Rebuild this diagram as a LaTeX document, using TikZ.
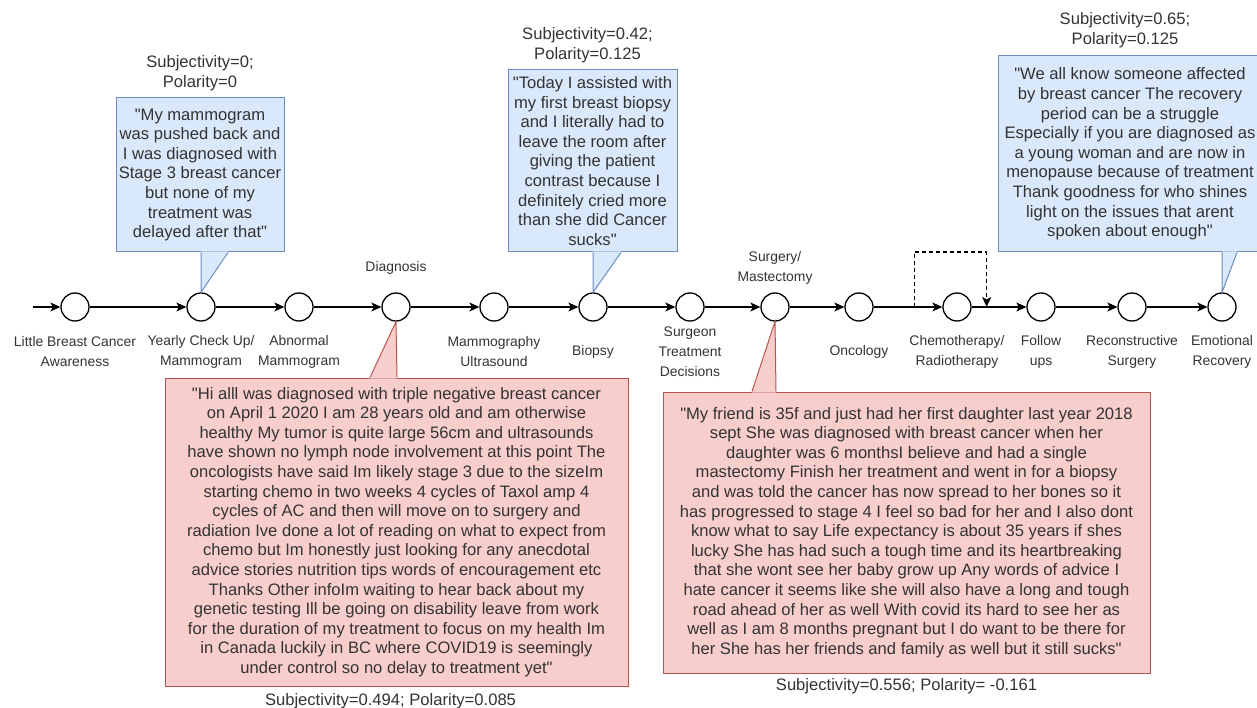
\documentclass[tikz,border=0pt]{standalone}
\usepackage{fontspec}
\setmainfont{Liberation Sans}[Ligatures=TeXOff]
\usetikzlibrary{positioning,arrows.meta}

\definecolor{txtgray}{HTML}{333333}
\definecolor{bluefill}{HTML}{DAE8FC}
\definecolor{bluedraw}{HTML}{6C8EBF}
\definecolor{redfill}{HTML}{F8CECC}
\definecolor{reddraw}{HTML}{B85450}

\begin{document}
\begin{tikzpicture}[x=1pt, y=-1pt, on grid, node distance=98pt,
    >={Stealth[length=10pt,width=9pt,inset=2.5pt]}, line width=1.2pt,
    every node/.style={text=txtgray},
    stage/.style={circle, draw=black, line width=1.3pt, minimum size=28pt, inner sep=0pt},
    stagelbl/.style={align=center, font=\fontsize{13.9}{20}\selectfont},
    quotetxt/.style={align=center, font=\fontsize{16.6}{19.6}\selectfont, inner sep=0pt, line width=1pt},
    bluecall/.style={quotetxt, fill=bluefill, draw=bluedraw},
    redcall/.style={quotetxt, fill=redfill, draw=reddraw},
    score/.style={align=center, font=\fontsize{16.6}{19.6}\selectfont}]
  \useasboundingbox (0,0) rectangle (1257,708);

  % timeline
  \node[stage] (aware) at (75,307) {};
  \node[stage, right=126pt of aware] (checkup) {};
  \node[stage, right=of checkup] (abnormal) {};
  \node[stage, right=97pt of abnormal] (diag) {};
  \node[stage, right=of diag] (mammo) {};
  \node[stage, right=99pt of mammo] (biopsy) {};
  \node[stage, right=97pt of biopsy] (surgeon) {};
  \node[stage, right=85pt of surgeon] (surgery) {};
  \node[stage, right=84pt of surgery] (onco) {};
  \node[stage, right=of onco] (chemo) {};
  \node[stage, right=84pt of chemo] (follow) {};
  \node[stage, right=91pt of follow] (recon) {};
  \node[stage, right=90pt of recon] (emotion) {};

  \node[stagelbl, below=45pt of aware] (aware-l) {Little Breast Cancer\\Awareness};
  \node[stagelbl, below=45pt of checkup] (checkup-l) {Yearly Check Up/\\Mammogram};
  \node[stagelbl, below=45pt of abnormal] (abnormal-l) {Abnormal\\Mammogram};
  \node[stagelbl, above=39pt of diag] (diag-l) {Diagnosis};
  \node[stagelbl, below=45pt of mammo] (mammo-l) {Mammography\\Ultrasound};
  \node[stagelbl, below=45pt of biopsy] (biopsy-l) {Biopsy};
  \node[stagelbl, below=45pt of surgeon] (surgeon-l) {Surgeon\\Treatment\\Decisions};
  \node[stagelbl, above=39pt of surgery] (surgery-l) {Surgery/\\Mastectomy};
  \node[stagelbl, below=45pt of onco] (onco-l) {Oncology};
  \node[stagelbl, below=45pt of chemo] (chemo-l) {Chemotherapy/\\Radiotherapy};
  \node[stagelbl, below=45pt of follow] (follow-l) {Follow\\ups};
  \node[stagelbl, below=45pt of recon] (recon-l) {Reconstructive\\Surgery};
  \node[stagelbl, below=45pt of emotion] (emotion-l) {Emotional\\Recovery};

  \coordinate[left=42pt of aware] (start);
  \path[->] (start) edge (aware)
    (aware) edge (checkup)
    (checkup) edge (abnormal)
    (abnormal) edge (diag)
    (diag) edge (mammo)
    (mammo) edge (biopsy)
    (biopsy) edge (surgeon)
    (surgeon) edge (surgery)
    (surgery) edge (onco)
    (onco) edge (chemo)
    (chemo) edge (follow)
    (follow) edge (recon)
    (recon) edge (emotion);

  % repeat cycle
  \coordinate[left=28pt of chemo.west] (loopin);
  \coordinate[right=15pt of chemo.east] (loopout);
  \draw[->, dash pattern=on 4pt off 3pt] (loopin) -- ++(0,-55) -| (loopout);

  % quotes above
  \node[bluecall, minimum width=168pt, minimum height=154pt] (q-check) at (200,175)
    {"My mammogram\\was pushed back and\\I was diagnosed with\\Stage 3 breast cancer\\but none of my\\treatment was\\delayed after that"};
  \coordinate (q-check-a) at (q-check.south -| checkup);
  \fill[bluefill] ([yshift=1pt]q-check-a) -- (checkup.north) -- ([xshift=27pt,yshift=1pt]q-check-a) -- cycle;
  \draw[bluedraw, line width=1pt] (q-check-a) -- (checkup.north) -- ([xshift=27pt]q-check-a);
  \node[score] (s-check) at ([yshift=24pt]q-check.north) {Subjectivity=0;\\Polarity=0};

  \node[bluecall, minimum width=169pt, minimum height=182pt] (q-biopsy) at (592.5,161)
    {"Today I assisted with\\my first breast biopsy\\and I literally had to\\leave the room after\\giving the patient\\contrast because I\\definitely cried more\\than she did Cancer\\sucks"};
  \coordinate (q-biopsy-a) at (q-biopsy.south -| biopsy);
  \fill[bluefill] ([yshift=1pt]q-biopsy-a) -- (biopsy.north) -- ([xshift=28pt,yshift=1pt]q-biopsy-a) -- cycle;
  \draw[bluedraw, line width=1pt] (q-biopsy-a) -- (biopsy.north) -- ([xshift=28pt]q-biopsy-a);
  \node[score] (s-biopsy) at ([xshift=-5pt,yshift=24pt]q-biopsy.north) {Subjectivity=0.42;\\Polarity=0.125};

  \node[bluecall, minimum width=264pt, minimum height=196pt] (q-emotion) at (1130,154)
    {"We all know someone affected\\by breast cancer The recovery\\period can be a struggle\\Especially if you are diagnosed as\\a young woman and are now in\\menopause because of treatment\\Thank goodness for who shines\\light on the issues that arent\\spoken about enough"};
  \coordinate (q-emotion-a) at (q-emotion.south -| emotion);
  \fill[bluefill] ([yshift=1pt]q-emotion-a) -- (emotion.north) -- ([xshift=15pt,yshift=1pt]q-emotion-a) -- cycle;
  \draw[bluedraw, line width=1pt] (q-emotion-a) -- (emotion.north) -- ([xshift=15pt]q-emotion-a);
  \node[score] (s-emotion) at ([xshift=-5pt,yshift=25pt]q-emotion.north) {Subjectivity=0.65;\\Polarity=0.125};

  % quotes below
  \node[redcall, minimum width=463pt, minimum height=308pt] (q-diag) at (396.5,532)
    {"Hi alll was diagnosed with triple negative breast cancer\\on April 1 2020 I am 28 years old and am otherwise\\healthy My tumor is quite large 56cm and ultrasounds\\have shown no lymph node involvement at this point The\\oncologists have said Im likely stage 3 due to the sizeIm\\starting chemo in two weeks 4 cycles of Taxol amp 4\\cycles of AC and then will move on to surgery and\\radiation Ive done a lot of reading on what to expect from\\chemo but Im honestly just looking for any anecdotal\\advice stories nutrition tips words of encouragement etc\\Thanks Other infoIm waiting to hear back about my\\genetic testing Ill be going on disability leave from work\\for the duration of my treatment to focus on my health Im\\in Canada luckily in BC where COVID19 is seemingly\\under control so no delay to treatment yet"};
  \coordinate (q-diag-a) at (q-diag.north -| diag);
  \fill[redfill] ([xshift=1pt,yshift=-1pt]q-diag-a) -- (diag.south) -- ([xshift=-26pt,yshift=-1pt]q-diag-a) -- cycle;
  \draw[reddraw, line width=1pt] ([xshift=1pt]q-diag-a) -- (diag.south) -- ([xshift=-26pt]q-diag-a);
  \node[score] (s-diag) at ([xshift=-6pt,yshift=-15pt]q-diag.south) {Subjectivity=0.494; Polarity=0.085};

  \node[redcall, minimum width=487pt, minimum height=281pt] (q-surgery) at (906.5,532.5)
    {"My friend is 35f and just had her first daughter last year 2018\\sept She was diagnosed with breast cancer when her\\daughter was 6 monthsI believe and had a single\\mastectomy Finish her treatment and went in for a biopsy\\and was told the cancer has now spread to her bones so it\\has progressed to stage 4 I feel so bad for her and I also dont\\know what to say Life expectancy is about 35 years if shes\\lucky She has had such a tough time and its heartbreaking\\that she wont see her baby grow up Any words of advice I\\hate cancer it seems like she will also have a long and tough\\road ahead of her as well With covid its hard to see her as\\well as I am 8 months pregnant but I do want to be there for\\her She has her friends and family as well but it still sucks"};
  \coordinate (q-surgery-a) at (q-surgery.north -| surgery);
  \fill[redfill] ([xshift=1pt,yshift=-1pt]q-surgery-a) -- (surgery.south) -- ([xshift=-23pt,yshift=-1pt]q-surgery-a) -- cycle;
  \draw[reddraw, line width=1pt] ([xshift=1pt]q-surgery-a) -- (surgery.south) -- ([xshift=-23pt]q-surgery-a);
  \node[score] (s-surgery) at ([yshift=-13pt]q-surgery.south) {Subjectivity=0.556; Polarity= -0.161};
\end{tikzpicture}
\end{document}
